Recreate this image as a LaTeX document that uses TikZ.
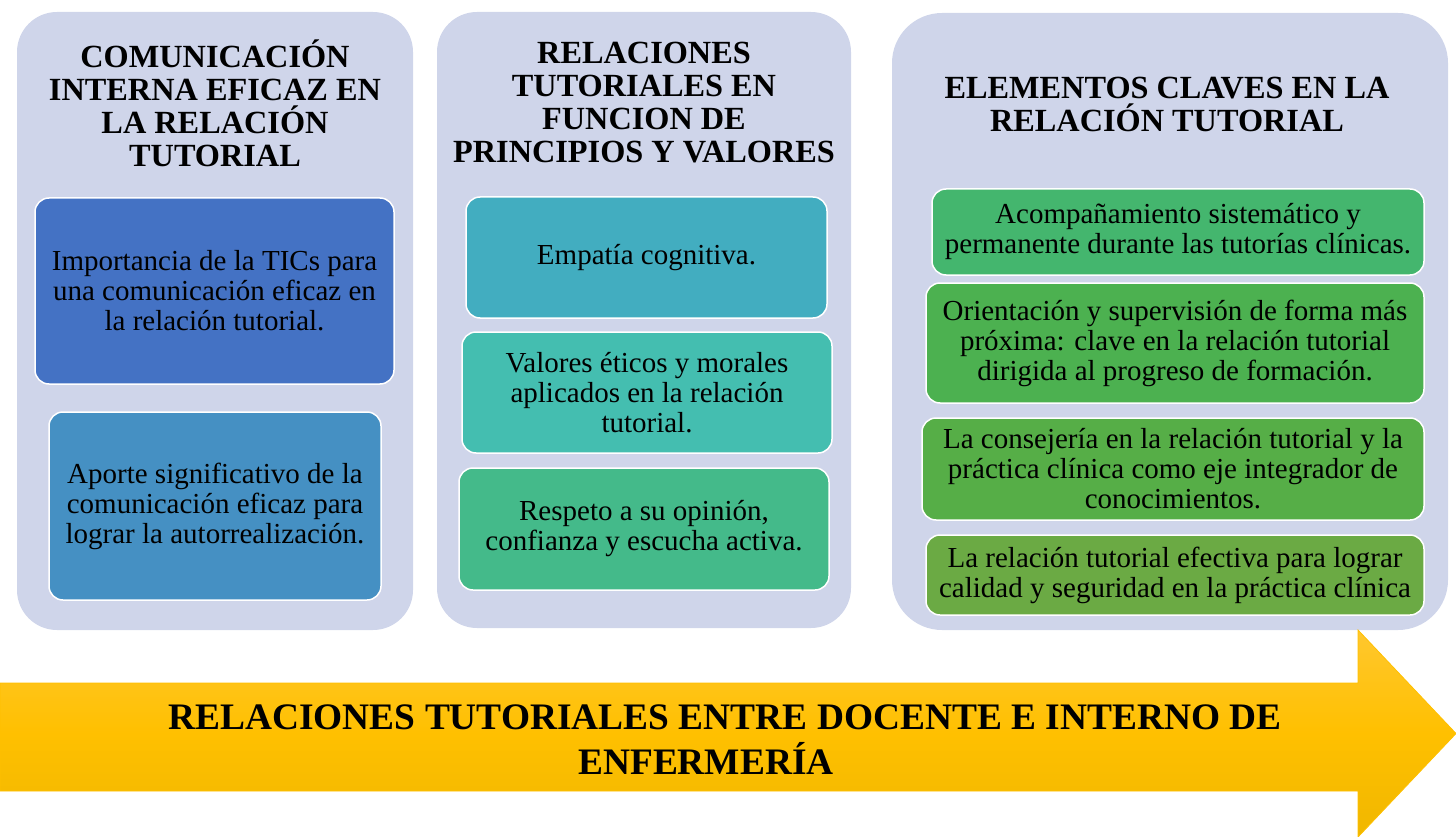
\documentclass[tikz,border=0pt]{standalone}
\usepackage{fontspec}
\setmainfont{Liberation Serif}
\usepackage{tikz}
\usetikzlibrary{positioning}

\definecolor{panelbg}{HTML}{CFD5EA}
\definecolor{bluA}{HTML}{4472C4}
\definecolor{bluB}{HTML}{4590C3}
\definecolor{tealA}{HTML}{42ADC0}
\definecolor{tealB}{HTML}{44BEB0}
\definecolor{tealC}{HTML}{44BA8A}
\definecolor{grnA}{HTML}{44B66E}
\definecolor{grnB}{HTML}{4CB150}
\definecolor{grnC}{HTML}{56AE47}
\definecolor{grnD}{HTML}{6BAA44}
\definecolor{goldT}{HTML}{FFC72E}
\definecolor{goldM}{HTML}{FFC000}
\definecolor{goldB}{HTML}{F0B700}

\newcommand{\itemfont}{\fontsize{29}{30}\selectfont}
\newcommand{\titlefont}{\fontsize{32.3}{33}\selectfont\bfseries}
\newcommand{\bannerfont}{\fontsize{37.4}{45}\selectfont\bfseries}

\tikzstyle{panel} = [rectangle, rounded corners=40pt, fill=panelbg, draw=none, inner sep=0pt]

\begin{document}
\begin{tikzpicture}[x=1pt, y=-1pt,
    item/.style={rectangle, rounded corners=14pt, draw=white, line width=1.5pt, align=center, font=\itemfont, inner sep=0pt},
    title/.style={align=center, font=\titlefont, inner sep=0pt},
]
\useasboundingbox (0,0) rectangle (1456,837);

% Panels
\node[panel, minimum width=396pt, minimum height=618pt] (pcom) at (215,321) {};
\node[panel, minimum width=414pt, minimum height=616pt] (prel) at (644,320) {};
\node[panel, rounded corners=50pt, minimum width=556pt, minimum height=617pt] (pele) at (1170,321.5) {};

% Titles
\node[title] (tcom) at (215,103) {COMUNICACIÓN\\INTERNA EFICAZ EN\\LA RELACIÓN\\TUTORIAL};
\node[title] (trel) at (644,103) {RELACIONES\\TUTORIALES EN\\FUNCION DE\\PRINCIPIOS Y VALORES};
\node[title] (tele) at (1167,104) {ELEMENTOS CLAVES EN LA\\RELACIÓN TUTORIAL};

% Items, first panel
\node[item, fill=bluA, minimum width=359pt, minimum height=186pt] (tics) at (214.5,291) {Importancia de la TICs para\\una comunicación eficaz en\\la relación tutorial.};
\node[item, fill=bluB, minimum width=332pt, minimum height=188pt] (aporte) at (215,506) {Aporte significativo de la\\comunicación eficaz para\\lograr la autorrealización.};

% Items, second panel
\node[item, fill=tealA, minimum width=361pt, minimum height=121pt] (empatia) at (646.5,257.5) {Empatía cognitiva.};
\node[item, fill=tealB, minimum width=370pt, minimum height=121pt] (valores) at (647,392.5) {Valores éticos y morales\\aplicados en la relación\\tutorial.};
\node[item, fill=tealC, minimum width=370pt, minimum height=122pt] (respeto) at (644,529) {Respeto a su opinión,\\confianza y escucha activa.};

% Items, third panel
\node[item, fill=grnA, minimum width=492pt, minimum height=86pt] (acomp) at (1178,232) {Acompañamiento sistemático y\\permanente durante las tutorías clínicas.};
\node[item, fill=grnB, minimum width=498pt, minimum height=120pt] (orient) at (1175,343) {Orientación y supervisión de forma más\\próxima: clave en la relación tutorial\\dirigida al progreso de formación.};
\node[item, fill=grnC, minimum width=502pt, minimum height=102pt] (consej) at (1173,469) {La consejería en la relación tutorial y la\\práctica clínica como eje integrador de\\conocimientos.};
\node[item, fill=grnD, minimum width=498pt, minimum height=80pt] (efect) at (1175,575) {La relación tutorial efectiva para lograr\\calidad y seguridad en la práctica clínica};

% Banner arrow
\path[top color=goldT, bottom color=goldB, middle color=goldM, draw=goldM, line width=0.8pt]
    (0,683) -- (1358,683) -- (1358,630) -- (1456,733.5) -- (1358,837) -- (1358,791) -- (0,791) -- cycle;
\node[align=center, font=\bannerfont, inner sep=0pt] (banner) at (725,740) {RELACIONES TUTORIALES ENTRE DOCENTE E INTERNO DE\\ENFERMERÍA\hspace*{38pt}};

\end{tikzpicture}
\end{document}
